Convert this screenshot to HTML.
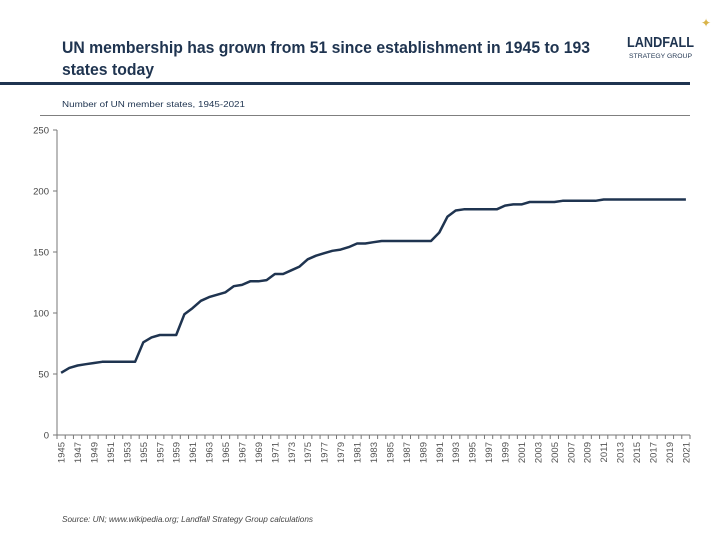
<!DOCTYPE html>
<html><head><meta charset="utf-8"><style>
body{margin:0;background:#fff;width:720px;height:540px;overflow:hidden;font-family:"Liberation Sans",sans-serif;}
</style></head><body>
<svg width="720" height="540">
<text x="62" y="53" font-size="17" font-weight="bold" fill="#1f3450" textLength="528" lengthAdjust="spacingAndGlyphs">UN membership has grown from 51 since establishment in 1945 to 193</text>
<text x="62" y="75" font-size="17" font-weight="bold" fill="#1f3450" textLength="92" lengthAdjust="spacingAndGlyphs">states today</text>
<text x="627" y="47" font-size="15" font-weight="bold" fill="#1f3450" textLength="67" lengthAdjust="spacingAndGlyphs">LANDFALL</text>
<text x="629" y="58" font-size="6.5" fill="#1f3450" textLength="63" lengthAdjust="spacingAndGlyphs">STRATEGY GROUP</text>
<text x="706" y="27" font-size="12" fill="#d9b44a" text-anchor="middle">✦</text>
<rect x="0" y="82" width="690" height="3" fill="#1f3450"/>
<text x="62" y="107" font-size="8.5" fill="#1f3450" textLength="183" lengthAdjust="spacingAndGlyphs">Number of UN member states, 1945-2021</text>
<line x1="40" y1="115.5" x2="690" y2="115.5" stroke="#555" stroke-width="0.8"/>
<g id="axes"></g>
<path id="line" fill="none" stroke="#1f3450" stroke-width="2.5" stroke-linejoin="round"/>
<text x="62" y="522" font-size="8" font-style="italic" fill="#444" textLength="251" lengthAdjust="spacingAndGlyphs">Source: UN; www.wikipedia.org; Landfall Strategy Group calculations</text>
</svg>
<script>
const years=[];for(let y=1945;y<=2021;y++)years.push(y);
const members=[51,55,57,58,59,60,60,60,60,60,76,80,82,82,82,99,104,110,113,115,117,122,123,126,126,127,132,132,135,138,144,147,149,151,152,154,157,157,158,159,159,159,159,159,159,159,166,179,184,185,185,185,185,185,188,189,189,191,191,191,191,192,192,192,192,192,193,193,193,193,193,193,193,193,193,193,193];
const yTicks=[0,50,100,150,200,250];
const X0=57,X1=690,Y0=435,Y1=130;
const step=(X1-X0)/years.length;
const xs=i=>X0+step*(i+0.5);
const ys=v=>Y0-(v/250)*(Y0-Y1);
const NS="http://www.w3.org/2000/svg";
const g=document.getElementById('axes');
function mk(t,a){const e=document.createElementNS(NS,t);for(const k in a)e.setAttribute(k,a[k]);g.appendChild(e);return e;}
let e=mk('line',{x1:X0,y1:Y1,x2:X0,y2:Y0,stroke:'#777','stroke-width':1});


e=mk('line',{x1:X0,y1:Y0,x2:X1,y2:Y0,stroke:'#777','stroke-width':1});


yTicks.forEach(v=>{
 let t=mk('line',{x1:X0-4,y1:ys(v),x2:X0,y2:ys(v),stroke:'#777'});
 
 
 let l=mk('text',{x:X0-8,y:ys(v)+3.5,'font-size':9.5,fill:'#444','text-anchor':'end'});
 l.textContent=v;
 
 
});
for(let i=0;i<=years.length;i++){
 let t=mk('line',{x1:X0+step*i,y1:Y0,x2:X0+step*i,y2:Y0+4,stroke:'#777'});
 
 
}
years.forEach((y,i)=>{
 if(i%2)return;
 const x=xs(i)+3.5,yy=Y0+7;
 let l=mk('text',{x:x,y:yy,'font-size':9.5,fill:'#555','text-anchor':'end',transform:`rotate(-90 ${x} ${yy})`});
 l.textContent=y;
 
 
});
document.getElementById('line').setAttribute('d',members.map((v,i)=>(i?'L':'M')+xs(i).toFixed(1)+','+ys(v).toFixed(1)).join(''));
</script>
</body></html>
